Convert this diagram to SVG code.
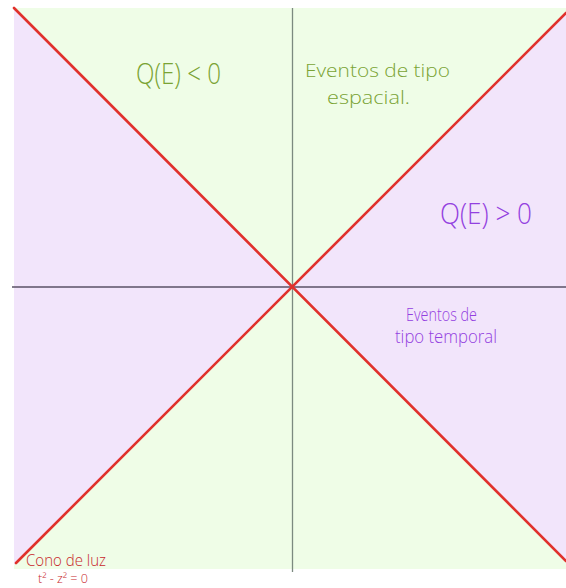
<svg xmlns="http://www.w3.org/2000/svg" width="566" height="588" viewBox="0 0 566 588">
<style>
.hand{font-family:"Open Sans","DejaVu Sans",sans-serif;font-weight:300}
.g{fill:#7aa334}
.p{fill:#9340e0}
.r{fill:#c8282c}
.cone{stroke:#e0312c;stroke-width:2.6;stroke-linecap:round;fill:none}
</style>
<rect x="0" y="0" width="566" height="588" fill="#ffffff"/>
<g id="regions">
<polygon points="14,8 566,8 566,13 292,287" fill="#effde7"/>
<polygon points="14,8 292,287 14,565 14,8" fill="#f2e5fb"/>
<polygon points="566,13 566,561 292,287" fill="#f2e5fb"/>
<polygon points="292,287 566,561 566,569 14,569 14,565" fill="#effde7"/>
</g>
<g id="axes">
<line x1="12" y1="287" x2="566" y2="287" stroke="#5a5066" stroke-width="1.3"/>
<line x1="292.5" y1="8" x2="292.5" y2="572" stroke="#7c8a80" stroke-width="1.3"/>
</g>
<g id="connectors">
<line class="cone" x1="14" y1="8" x2="566" y2="561"/>
<line class="cone" x1="566" y1="13" x2="16" y2="563"/>
</g>
<g id="label-spacelike">
<text class="hand g" x="136" y="84" font-size="29" textLength="85" lengthAdjust="spacingAndGlyphs">Q(E) &lt; 0</text>
<text class="hand g" x="305" y="77" font-size="19" textLength="145" lengthAdjust="spacingAndGlyphs">Eventos de tipo</text>
<text class="hand g" x="327" y="104" font-size="19" textLength="83" lengthAdjust="spacingAndGlyphs">espacial.</text>
</g>
<g id="label-timelike">
<text class="hand p" x="440" y="224" font-size="29" textLength="92" lengthAdjust="spacingAndGlyphs">Q(E) &gt; 0</text>
<text class="hand p" x="406" y="321" font-size="18" textLength="71" lengthAdjust="spacingAndGlyphs">Eventos de</text>
<text class="hand p" x="395" y="343" font-size="18" textLength="102" lengthAdjust="spacingAndGlyphs">tipo temporal</text>
</g>
<g id="label-cone">
<text class="hand r" x="26" y="566" font-size="16" textLength="80" lengthAdjust="spacingAndGlyphs">Cono de luz</text>
<text class="hand r" x="38" y="583" font-size="12" textLength="50" lengthAdjust="spacingAndGlyphs">t² - z² = 0</text>
</g>
</svg>
